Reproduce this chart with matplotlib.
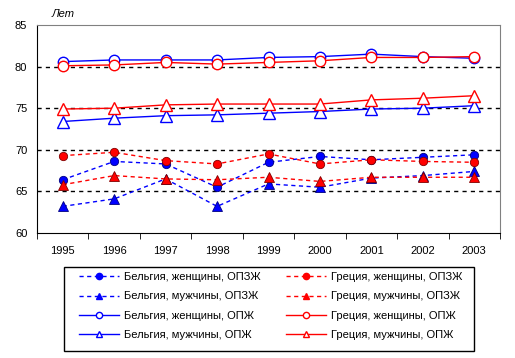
import matplotlib
matplotlib.use("Agg")
import matplotlib.pyplot as plt
from matplotlib.patches import Rectangle

plt.rcParams['font.family'] = ['Liberation Sans', 'DejaVu Sans']

years = ['1995', '1996', '1997', '1998', '1999', '2000', '2001', '2002', '2003']

be_women_hle = [66.4, 68.6, 68.3, 65.5, 68.5, 69.2, 68.8, 69.1, 69.4]
gr_women_hle = [69.3, 69.7, 68.7, 68.3, 69.5, 68.3, 68.8, 68.6, 68.5]
be_men_hle = [63.2, 64.1, 66.5, 63.2, 65.9, 65.5, 66.6, 66.9, 67.4]
gr_men_hle = [65.8, 66.9, 66.5, 66.4, 66.7, 66.2, 66.7, 66.7, 66.7]
be_women_le = [80.6, 80.8, 80.8, 80.8, 81.1, 81.2, 81.5, 81.2, 81.0]
gr_women_le = [80.1, 80.2, 80.5, 80.3, 80.5, 80.7, 81.1, 81.1, 81.2]
be_men_le = [73.4, 73.8, 74.1, 74.2, 74.4, 74.6, 74.9, 75.0, 75.3]
gr_men_le = [74.9, 75.0, 75.4, 75.5, 75.5, 75.5, 76.0, 76.2, 76.5]

labels = ['Бельгия, женщины, ОПЗЖ', 'Бельгия, мужчины, ОПЗЖ',
          'Бельгия, женщины, ОПЖ', 'Бельгия, мужчины, ОПЖ',
          'Греция, женщины, ОПЗЖ', 'Греция, мужчины, ОПЗЖ',
          'Греция, женщины, ОПЖ', 'Греция, мужчины, ОПЖ']

fig = plt.figure(figsize=(5.15, 3.58), dpi=100)
ax = fig.add_axes([37 / 515, 1 - 233 / 358, 463 / 515, 208 / 358])

x = list(range(len(years)))
blue = '#0000ff'
red = '#ff0000'
dash = (0, (3, 2.5))

series = [
    (be_women_hle, blue, 'o', dash, True, 6),
    (be_men_hle, blue, '^', dash, True, 7),
    (be_women_le, blue, 'o', '-', False, 7.5),
    (be_men_le, blue, '^', '-', False, 8.5),
    (gr_women_hle, red, 'o', dash, True, 6),
    (gr_men_hle, red, '^', dash, True, 7),
    (gr_women_le, red, 'o', '-', False, 7.5),
    (gr_men_le, red, '^', '-', False, 8.5),
]

handles = []
for vals, col, mk, ls, filled, ms in series:
    edge = col
    if filled:
        edge = '#000080' if col == blue else '#800000'
    ax.plot(x, vals, color=col, linestyle=ls, linewidth=1, marker=mk,
            markersize=ms, markerfacecolor=col if filled else 'white',
            markeredgecolor=edge, markeredgewidth=0.6 if filled else 1,
            clip_on=False)
    h, = ax.plot([], [], color=col, linestyle=ls, linewidth=1, marker=mk,
                 markersize=4.5, markerfacecolor=col if filled else 'white',
                 markeredgecolor=col, markeredgewidth=1)
    handles.append(h)

ax.set_xlim(-0.5, len(years) - 0.5)
ax.set_ylim(60, 85)
ax.set_yticks([60, 65, 70, 75, 80, 85])
for v in [65, 70, 75, 80]:
    ax.axhline(v, color='black', linestyle=(0, (3, 3)), linewidth=1, zorder=0)

ax.set_xticks(x)
ax.set_xticklabels(years)
ax.set_xticks([i - 0.5 for i in range(len(years) + 1)], minor=True)
ax.tick_params(axis='x', which='major', length=0, pad=9, labelsize=8)
ax.tick_params(axis='x', which='minor', length=4, direction='out', color='black')
ax.tick_params(axis='y', length=0, pad=7, labelsize=8)

ax.spines['top'].set_color('#808080')
ax.spines['right'].set_color('#808080')
ax.spines['left'].set_color('black')
ax.spines['bottom'].set_color('black')

fig.text(52 / 515, 1 - 14 / 358, 'Лет', fontsize=8, style='italic',
         va='center', ha='left')

leg = fig.legend(handles, labels, ncol=2, loc='upper left',
                 bbox_to_anchor=(79 / 515, 1 - 272 / 358),
                 frameon=False, fontsize=8, handlelength=3.6,
                 borderpad=0, borderaxespad=0, labelspacing=0.85,
                 columnspacing=2.3, handletextpad=0.45)

fig.patches.append(Rectangle((64 / 515, 1 - 351 / 358), 410 / 515, 84 / 358,
                             transform=fig.transFigure, fill=False,
                             edgecolor='black', linewidth=1))

fig.savefig('out.png', dpi=100)
